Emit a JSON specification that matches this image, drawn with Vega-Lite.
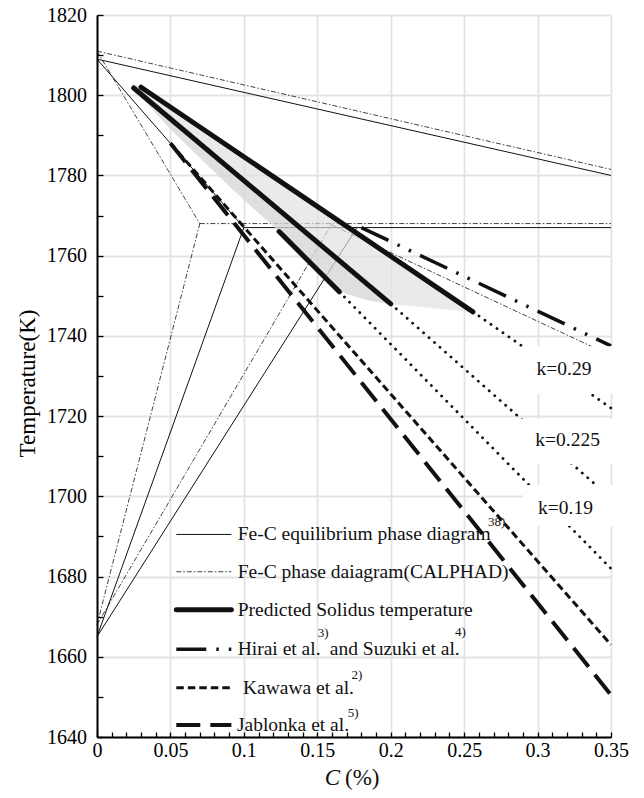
{
  "$schema": "https://vega.github.io/schema/vega-lite/v6.json",
  "width": 514,
  "height": 722,
  "autosize": {"type": "none"},
  "padding": {"left": 97, "top": 15, "right": 33, "bottom": 61},
  "background": "white",
  "config": {"view": {"stroke": null}, "font": "'Liberation Serif', 'Times New Roman', Times, serif"},
  "datasets": {
    "lines": [
      {"s": "eq", "g": "eq1", "C": 0, "T": 1809}, {"s": "eq", "g": "eq1", "C": 0.35, "T": 1780},
      {"s": "eq", "g": "eq2", "C": 0, "T": 1809}, {"s": "eq", "g": "eq2", "C": 0.1, "T": 1767},
      {"s": "eq", "g": "eq3", "C": 0.1, "T": 1767}, {"s": "eq", "g": "eq3", "C": 0.35, "T": 1767},
      {"s": "eq", "g": "eq4", "C": 0, "T": 1665}, {"s": "eq", "g": "eq4", "C": 0.1, "T": 1767},
      {"s": "eq", "g": "eq5", "C": 0, "T": 1665}, {"s": "eq", "g": "eq5", "C": 0.177, "T": 1767},
      {"s": "eq", "g": "eqL", "C": 0.054, "T": 1690.5}, {"s": "eq", "g": "eqL", "C": 0.0915, "T": 1690.5},
      {"s": "ca", "g": "ca1", "C": 0, "T": 1811}, {"s": "ca", "g": "ca1", "C": 0.35, "T": 1781.5},
      {"s": "ca", "g": "ca2", "C": 0, "T": 1811}, {"s": "ca", "g": "ca2", "C": 0.07, "T": 1768},
      {"s": "ca", "g": "ca3", "C": 0.07, "T": 1768}, {"s": "ca", "g": "ca3", "C": 0.35, "T": 1768},
      {"s": "ca", "g": "ca4", "C": 0, "T": 1668}, {"s": "ca", "g": "ca4", "C": 0.07, "T": 1768},
      {"s": "ca", "g": "ca5", "C": 0, "T": 1668}, {"s": "ca", "g": "ca5", "C": 0.16, "T": 1768},
      {"s": "ca", "g": "ca6", "C": 0.16, "T": 1767.6}, {"s": "ca", "g": "ca6", "C": 0.35, "T": 1735.1},
      {"s": "ca", "g": "caL", "C": 0.054, "T": 1681.2}, {"s": "ca", "g": "caL", "C": 0.0915, "T": 1681.2},
      {"s": "pr", "g": "p1", "C": 0.03, "T": 1802}, {"s": "pr", "g": "p1", "C": 0.256, "T": 1746},
      {"s": "pr", "g": "p2", "C": 0.025, "T": 1801.8}, {"s": "pr", "g": "p2", "C": 0.2, "T": 1748},
      {"s": "pr", "g": "p3", "C": 0.124, "T": 1766}, {"s": "pr", "g": "p3", "C": 0.165, "T": 1751},
      {"s": "pr", "g": "prL", "C": 0.054, "T": 1671.7}, {"s": "pr", "g": "prL", "C": 0.0915, "T": 1671.7},
      {"s": "hi", "g": "h1", "C": 0.18, "T": 1767}, {"s": "hi", "g": "h1", "C": 0.35, "T": 1737.5},
      {"s": "hi", "g": "hiL", "C": 0.054, "T": 1661.9}, {"s": "hi", "g": "hiL", "C": 0.0915, "T": 1661.9},
      {"s": "ka", "g": "k1", "C": 0.05, "T": 1788}, {"s": "ka", "g": "k1", "C": 0.35, "T": 1663},
      {"s": "ka", "g": "kaL", "C": 0.054, "T": 1652.3}, {"s": "ka", "g": "kaL", "C": 0.0915, "T": 1652.3},
      {"s": "ja", "g": "j1", "C": 0.05, "T": 1788}, {"s": "ja", "g": "j1", "C": 0.35, "T": 1650.5},
      {"s": "ja", "g": "jaL", "C": 0.054, "T": 1643}, {"s": "ja", "g": "jaL", "C": 0.0915, "T": 1643},
      {"s": "dt", "g": "d1", "C": 0.256, "T": 1746}, {"s": "dt", "g": "d1", "C": 0.35, "T": 1722},
      {"s": "dt", "g": "d2", "C": 0.2, "T": 1748}, {"s": "dt", "g": "d2", "C": 0.35, "T": 1699.5},
      {"s": "dt", "g": "d3", "C": 0.165, "T": 1751}, {"s": "dt", "g": "d3", "C": 0.35, "T": 1682}
    ],
    "band": [
      {"C": 0.024, "T": 1803.2, "T2": 1802.0},
      {"C": 0.05, "T": 1797.0, "T2": 1791.5},
      {"C": 0.09, "T": 1787.1, "T2": 1777.3},
      {"C": 0.124, "T": 1778.7, "T2": 1766.0},
      {"C": 0.145, "T": 1773.5, "T2": 1758.3},
      {"C": 0.165, "T": 1768.5, "T2": 1751.0},
      {"C": 0.185, "T": 1763.6, "T2": 1748.8},
      {"C": 0.2, "T": 1759.9, "T2": 1747.9},
      {"C": 0.23, "T": 1752.4, "T2": 1746.9},
      {"C": 0.256, "T": 1746.0, "T2": 1745.9}
    ],
    "band2": [
      {"C": 0.024, "T": 1802.1, "T2": 1802.0},
      {"C": 0.05, "T": 1794.1, "T2": 1791.5},
      {"C": 0.09, "T": 1781.8, "T2": 1777.3},
      {"C": 0.124, "T": 1771.4, "T2": 1766.0},
      {"C": 0.145, "T": 1765.0, "T2": 1758.3},
      {"C": 0.165, "T": 1758.8, "T2": 1751.0},
      {"C": 0.185, "T": 1752.7, "T2": 1748.8},
      {"C": 0.2, "T": 1748.0, "T2": 1747.9}
    ],
    "boxes": [
      {"C": 0.289, "C2": 0.356, "T": 1725.6, "T2": 1737.4},
      {"C": 0.288, "C2": 0.356, "T": 1708.0, "T2": 1719.3},
      {"C": 0.29, "C2": 0.356, "T": 1692.6, "T2": 1702.8}
    ],
    "texts": [
      {"k": "leg", "t": "Fe-C equilibrium phase diagram", "C": 0.0958, "T": 1690.5},
      {"k": "leg", "t": "Fe-C phase daiagram(CALPHAD)", "C": 0.0958, "T": 1681.2},
      {"k": "leg", "t": "Predicted Solidus temperature", "C": 0.0958, "T": 1671.7},
      {"k": "leg", "t": "Hirai et al.", "C": 0.0958, "T": 1661.9},
      {"k": "leg", "t": "and Suzuki et al.", "C": 0.1585, "T": 1661.9},
      {"k": "leg", "t": "Kawawa et al.", "C": 0.0994, "T": 1652.3},
      {"k": "leg", "t": "Jablonka et al.", "C": 0.0953, "T": 1643.0},
      {"k": "sup", "t": "38)", "C": 0.2662, "T": 1693.6},
      {"k": "sup", "t": "3)", "C": 0.1503, "T": 1665.9},
      {"k": "sup", "t": "4)", "C": 0.2437, "T": 1666.1},
      {"k": "sup", "t": "2)", "C": 0.1733, "T": 1655.5},
      {"k": "sup", "t": "5)", "C": 0.1708, "T": 1646.0},
      {"k": "kl", "t": "k=0.29", "C": 0.318, "T": 1731.7},
      {"k": "kl", "t": "k=0.225", "C": 0.3205, "T": 1714.0},
      {"k": "kl", "t": "k=0.19", "C": 0.319, "T": 1697.1},
      {"k": "axC", "t": "C", "C": 0.1551, "T": 1629.8},
      {"k": "axP", "t": "(%)", "C": 0.1689, "T": 1629.8}
    ]
  },
  "encoding": {
    "x": {
      "field": "C", "type": "quantitative",
      "scale": {"domain": [0, 0.35], "nice": false, "zero": false},
      "axis": {
        "title": null,
        "values": [0, 0.01, 0.02, 0.03, 0.04, 0.05, 0.06, 0.07, 0.08, 0.09, 0.1, 0.11, 0.12, 0.13, 0.14, 0.15, 0.16, 0.17, 0.18, 0.19, 0.2, 0.21, 0.22, 0.23, 0.24, 0.25, 0.26, 0.27, 0.28, 0.29, 0.3, 0.31, 0.32, 0.33, 0.34, 0.35],
        "domainColor": "black", "domainWidth": 2,
        "tickColor": "black", "tickWidth": 1.3, "tickSize": -5,
        "labelPadding": 8,
        "labelExpr": "abs(datum.value*20 - round(datum.value*20)) < 1e-6 ? format(datum.value, '~g') : ''",
        "labelFont": "'Liberation Serif', 'Times New Roman', Times, serif", "labelFontSize": 20, "labelColor": "black",
        "labelFlush": false, "labelOverlap": false,
        "grid": true, "gridColor": "#e3e3e3", "gridWidth": 1.8,
        "gridOpacity": {"condition": {"test": "abs(datum.value*20 - round(datum.value*20)) < 1e-6", "value": 1}, "value": 0}
      }
    },
    "y": {
      "field": "T", "type": "quantitative",
      "scale": {"domain": [1640, 1820], "nice": false, "zero": false},
      "axis": {
        "title": "Temperature(K)",
        "titleFont": "'Liberation Serif', 'Times New Roman', Times, serif", "titleFontSize": 23, "titleFontWeight": "normal", "titleColor": "black",
        "titleX": -62.5, "titleY": 368, "titleAngle": 270, "titleBaseline": "alphabetic", "titleAlign": "center",
        "values": [1640, 1650, 1660, 1670, 1680, 1690, 1700, 1710, 1720, 1730, 1740, 1750, 1760, 1770, 1780, 1790, 1800, 1810, 1820],
        "domainColor": "black", "domainWidth": 2,
        "tickColor": "black", "tickWidth": 1.3, "tickSize": -6,
        "labelPadding": 16.5,
        "labelExpr": "datum.value % 20 == 0 ? format(datum.value, 'd') : ''",
        "labelFont": "'Liberation Serif', 'Times New Roman', Times, serif", "labelFontSize": 20, "labelColor": "black",
        "labelFlush": false, "labelOverlap": false,
        "grid": true, "gridColor": "#e3e3e3", "gridWidth": 1.8,
        "gridOpacity": {"condition": {"test": "datum.value % 20 == 0", "value": 1}, "value": 0}
      }
    }
  },
  "layer": [
    {
      "data": {"name": "lines"},
      "transform": [{"filter": "datum.s == 'eq'"}],
      "mark": {"type": "line", "color": "#111", "strokeWidth": 1},
      "encoding": {"detail": {"field": "g"}}
    },
    {
      "data": {"name": "lines"},
      "transform": [{"filter": "datum.s == 'ca'"}],
      "mark": {"type": "line", "color": "#111", "strokeWidth": 0.8, "strokeDash": [5, 2, 1.5, 2]},
      "encoding": {"detail": {"field": "g"}}
    },
    {
      "data": {"name": "band"},
      "mark": {"type": "area", "color": "#e0e0e0", "opacity": 0.67},
      "encoding": {"y2": {"field": "T2"}}
    },
    {
      "data": {"name": "band2"},
      "mark": {"type": "area", "color": "#c8c8c8", "opacity": 0.32},
      "encoding": {"y2": {"field": "T2"}}
    },
    {
      "data": {"name": "lines"},
      "transform": [{"filter": "datum.s == 'ka'"}],
      "mark": {"type": "line", "color": "#111", "strokeWidth": 3, "strokeDash": [7.5, 4]},
      "encoding": {"detail": {"field": "g"}}
    },
    {
      "data": {"name": "lines"},
      "transform": [{"filter": "datum.s == 'ja'"}],
      "mark": {"type": "line", "color": "#111", "strokeWidth": 4, "strokeDash": [24, 10]},
      "encoding": {"detail": {"field": "g"}}
    },
    {
      "data": {"name": "lines"},
      "transform": [{"filter": "datum.s == 'hi'"}],
      "mark": {"type": "line", "color": "#111", "strokeWidth": 3.5, "strokeDash": [30, 10, 2.5, 10, 2.5, 10]},
      "encoding": {"detail": {"field": "g"}}
    },
    {
      "data": {"name": "lines"},
      "transform": [{"filter": "datum.s == 'dt'"}],
      "mark": {"type": "line", "color": "#111", "strokeWidth": 2.8, "strokeCap": "round", "strokeDash": [0.1, 7.2]},
      "encoding": {"detail": {"field": "g"}}
    },
    {
      "data": {"name": "lines"},
      "transform": [{"filter": "datum.s == 'pr'"}],
      "mark": {"type": "line", "color": "#111", "strokeWidth": 5, "strokeCap": "round"},
      "encoding": {"detail": {"field": "g"}}
    },
    {
      "data": {"name": "boxes"},
      "mark": {"type": "rect", "color": "white", "opacity": 1},
      "encoding": {"x2": {"field": "C2"}, "y2": {"field": "T2"}}
    },
    {
      "data": {"name": "texts"},
      "transform": [{"filter": "datum.k == 'leg'"}],
      "mark": {"type": "text", "align": "left", "baseline": "middle", "font": "'Liberation Serif', 'Times New Roman', Times, serif", "fontSize": 19.5, "color": "#111"},
      "encoding": {"text": {"field": "t"}}
    },
    {
      "data": {"name": "texts"},
      "transform": [{"filter": "datum.k == 'sup'"}],
      "mark": {"type": "text", "align": "left", "baseline": "middle", "font": "'Liberation Serif', 'Times New Roman', Times, serif", "fontSize": 13, "color": "#111"},
      "encoding": {"text": {"field": "t"}}
    },
    {
      "data": {"name": "texts"},
      "transform": [{"filter": "datum.k == 'kl'"}],
      "mark": {"type": "text", "align": "center", "baseline": "middle", "font": "'Liberation Serif', 'Times New Roman', Times, serif", "fontSize": 19.5, "color": "#111"},
      "encoding": {"text": {"field": "t"}}
    },
    {
      "data": {"name": "texts"},
      "transform": [{"filter": "datum.k == 'axC'"}],
      "mark": {"type": "text", "align": "left", "baseline": "middle", "font": "'Liberation Serif', 'Times New Roman', Times, serif", "fontSize": 23, "fontStyle": "italic", "color": "#111"},
      "encoding": {"text": {"field": "t"}}
    },
    {
      "data": {"name": "texts"},
      "transform": [{"filter": "datum.k == 'axP'"}],
      "mark": {"type": "text", "align": "left", "baseline": "middle", "font": "'Liberation Serif', 'Times New Roman', Times, serif", "fontSize": 23, "color": "#111"},
      "encoding": {"text": {"field": "t"}}
    }
  ]
}
